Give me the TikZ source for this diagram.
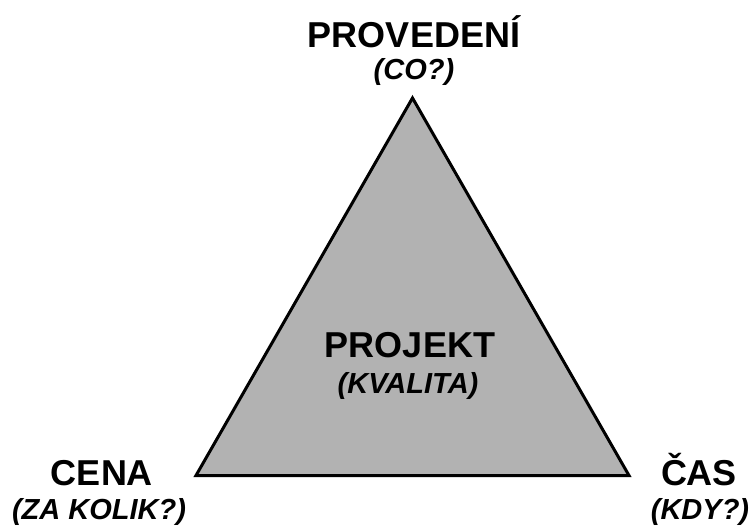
\documentclass[tikz,border=0pt]{standalone}
\usepackage{fontspec}
\setmainfont{Liberation Sans}
\definecolor{trifill}{RGB}{178,178,178}
\begin{document}
\begin{tikzpicture}[x=1pt,y=-1pt,
  mainlbl/.style={anchor=base,inner sep=0pt,font=\fontsize{36}{40}\selectfont\bfseries},
  sublbl/.style={anchor=base,inner sep=0pt,font=\fontsize{29}{33}\selectfont\bfseries\itshape},
  tri/.style={draw=black,fill=trifill,line width=3pt,line join=miter}]
\useasboundingbox (0,0) rectangle (756,527);
\coordinate (top) at (412.5,98);
\coordinate (bl) at (196,475.5);
\coordinate (br) at (629,475.5);
\draw[tri] (top) -- (bl) -- (br) -- cycle;
\node[mainlbl] (prov) at (414,48) {PROVEDENÍ};
\node[sublbl] (co) at (414,80) {(CO?)};
\node[mainlbl] (proj) at (410,357) {PROJEKT};
\node[sublbl] (kval) at (408,393) {(KVALITA)};
\node[mainlbl] (cena) at (102,485) {CENA};
\node[sublbl] (zak) at (99,519) {(ZA KOLIK?)};
\node[mainlbl] (cas) at (699,485) {ČAS};
\node[sublbl] (kdy) at (700,519) {(KDY?)};
\end{tikzpicture}
\end{document}
